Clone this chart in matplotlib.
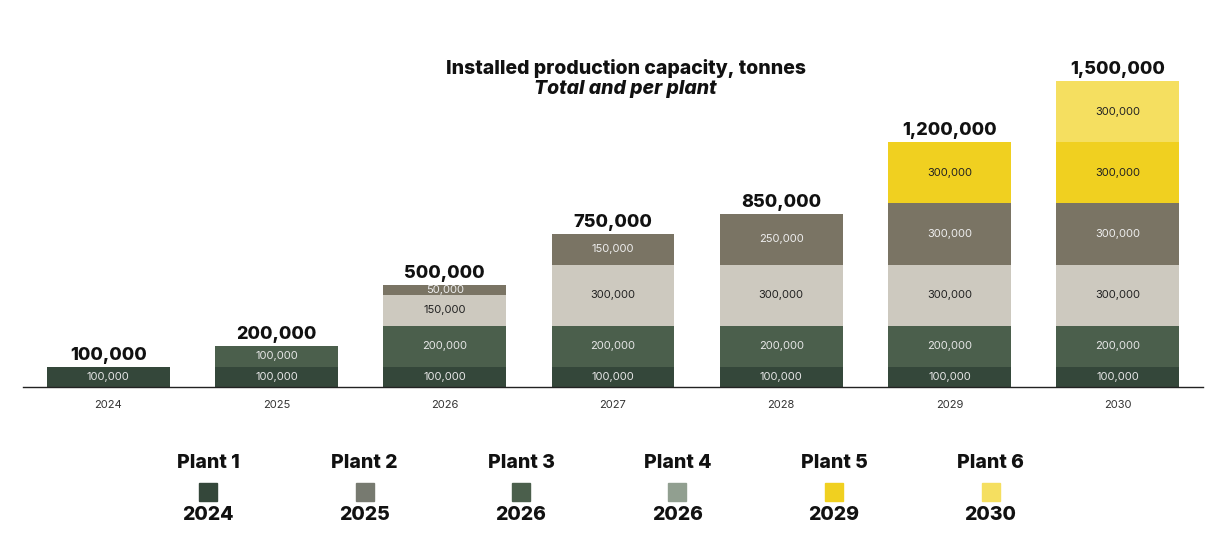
import numpy as np
import matplotlib.pyplot as plt
from matplotlib.patches import Rectangle

plt.rcParams['font.family'] = ['Inter', 'DejaVu Sans']

years = ["2024", "2025", "2026", "2027", "2028", "2029", "2030"]
layer1 = [100000, 100000, 100000, 100000, 100000, 100000, 100000]
layer2 = [0, 100000, 200000, 200000, 200000, 200000, 200000]
layer3 = [0, 0, 150000, 300000, 300000, 300000, 300000]
layer4 = [0, 0, 50000, 150000, 250000, 300000, 300000]
layer5 = [0, 0, 0, 0, 0, 300000, 300000]
layer6 = [0, 0, 0, 0, 0, 0, 300000]

layers = [layer1, layer2, layer3, layer4, layer5, layer6]
layer_colors = ["#34473a", "#4b5f4c", "#cdc9bf", "#7a7464", "#f0d020", "#f5df60"]
label_colors = ["#e6e6e6", "#e6e6e6", "#222222", "#eeeeee", "#222222", "#222222"]

plants = ["Plant 1", "Plant 2", "Plant 3", "Plant 4", "Plant 5", "Plant 6"]
plant_years = ["2024", "2025", "2026", "2026", "2029", "2030"]
plant_colors = ["#34473a", "#777a70", "#4b5f4c", "#919f90", "#f0d020", "#f5df60"]

fig = plt.figure(figsize=(12.15, 5.55), dpi=100)
ax = fig.add_axes([0.019, 0.3027, 0.971, 0.625])

x = np.arange(len(years))
bottom = np.zeros(len(years))
for vals, col, lcol in zip(layers, layer_colors, label_colors):
    vals = np.array(vals, dtype=float)
    ax.bar(x, vals, bottom=bottom, width=0.73, color=col, linewidth=0)
    for xi, v, b in zip(x, vals, bottom):
        if v > 0:
            ax.text(xi, b + v / 2, f"{int(v):,}", ha="center", va="center",
                    fontsize=8, color=lcol)
    bottom += vals

for xi, tot in zip(x, bottom):
    ax.text(xi, tot + 15000, f"{int(tot):,}", ha="center", va="bottom",
            fontsize=13, fontweight="heavy", color="#111111")

ax.set_xlim(-0.506, 6.506)
ax.set_ylim(0, 1.7e6)
ax.set_xticks(x)
ax.set_xticklabels(years, fontsize=8, color="#333333")
ax.tick_params(axis="x", length=0, pad=9)
ax.set_yticks([])
for s in ["top", "right", "left"]:
    ax.spines[s].set_visible(False)
ax.spines["bottom"].set_color("#222222")
ax.spines["bottom"].set_linewidth(1.0)

fig.text(0.515, 0.877, "Installed production capacity, tonnes", ha="center",
         va="center", fontsize=14, fontweight="heavy", color="#111111")
fig.text(0.515, 0.840, "Total and per plant", ha="center", va="center",
         fontsize=14, fontweight="heavy", style="italic", color="#111111")

# legend
for i, (name, yr, col) in enumerate(zip(plants, plant_years, plant_colors)):
    cx = (208 + i * 156.5) / 1215
    fig.text(cx, 1 - 463 / 555, name, ha="center", va="center",
             fontsize=14, fontweight="heavy", color="#111111")
    fig.patches.append(Rectangle((cx - 9 / 1215, 1 - 501 / 555), 18 / 1215, 18 / 555,
                                 transform=fig.transFigure, color=col, figure=fig))
    fig.text(cx, 1 - 515 / 555, yr, ha="center", va="center",
             fontsize=14, fontweight="heavy", color="#111111")

fig.savefig("out.png", dpi=100, facecolor="white")
